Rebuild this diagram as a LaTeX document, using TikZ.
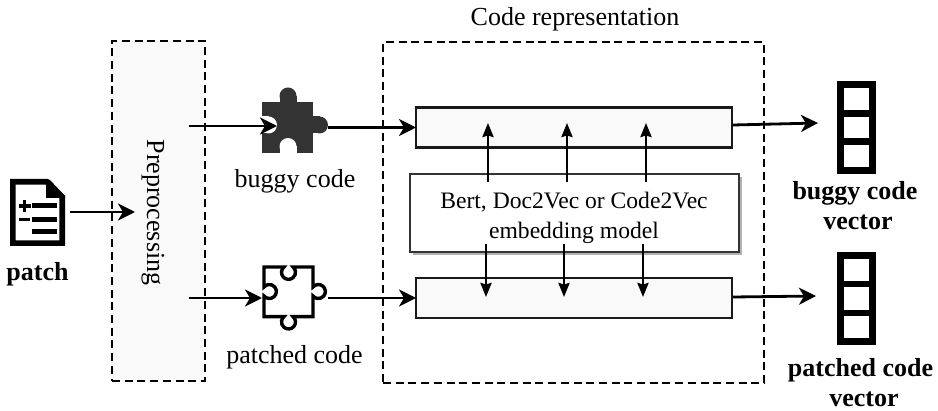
\documentclass[tikz,border=0pt]{standalone}
\usepackage{fontspec}
\setmainfont{Liberation Serif}
\usetikzlibrary{arrows.meta}
\definecolor{boxfill}{HTML}{F9F9F9}
\definecolor{puzzle}{HTML}{333333}
\tikzset{
  dashbox/.style={draw=black,line width=2.9pt,dash pattern=on 8pt off 4.7pt,outer sep=0pt,inner sep=0pt},
  barbox/.style={draw=black!90,fill=boxfill,line width=2.8pt,minimum width=316pt,minimum height=40pt,outer sep=0pt,inner sep=0pt},
  modelbox/.style={draw=black!80,fill=white,line width=1.5pt,minimum width=329pt,minimum height=78pt,outer sep=0pt,inner sep=0pt},
  flow/.style={line width=2.8pt,-{Stealth[length=17pt,width=17pt,inset=5pt]}},
  vflow/.style={line width=2.6pt,-{Stealth[length=14pt,width=11pt,inset=1.5pt]}},
  lab/.style={font=\fontsize{26}{30}\selectfont,anchor=base,inner sep=0pt},
  mlab/.style={font=\fontsize{23.6}{28}\selectfont,anchor=base,inner sep=0pt},
  blab/.style={font=\fontsize{26}{30}\selectfont\bfseries,anchor=base,inner sep=0pt},
  veccell/.style={draw=black,line width=6.5pt,fill=white,minimum width=32pt,outer sep=0pt,inner sep=0pt},
  iconline/.style={line width=5pt,black},
}
\begin{document}
\begin{tikzpicture}[x=1pt,y=-1pt]
\useasboundingbox (0,0) rectangle (938,411);
\fill[white] (0,0) rectangle (938,411);

% dashed containers
\node[dashbox,fill=boxfill,minimum width=93pt,minimum height=340pt] (prep) at (158.5,211) {};
\node[dashbox,minimum width=381pt,minimum height=341pt] (rep) at (573.5,212.5) {};
\node[lab] (reptitle) at (575,26) {Code representation};
\node[lab,rotate=-90] (preptext) at (147,212.5) {Preprocessing};

% patch icon
\draw[line width=5.6pt,line join=miter,fill=white] (12.8,181.8) -- (47,181.8) -- (62.2,197) -- (62.2,243.2) -- (12.8,243.2) -- cycle;
\fill (46,180) -- (50,180) -- (65,196) -- (65,198) -- (46,198) -- cycle;
\draw[iconline] (32,206) -- (57,206);
\draw[iconline] (32,219.5) -- (57,219.5);
\draw[iconline] (32,231.5) -- (57,231.5);
\draw[line width=3.2pt] (19,206) -- (30.5,206) (24.7,200.2) -- (24.7,211.8);
\draw[line width=3.2pt] (19,219.5) -- (29.5,219.5);
\node[blab] (patchlab) at (37.5,281) {patch};

% buggy puzzle
\fill[puzzle] (262,102) rectangle (313,153);
\fill[puzzle] (279.5,96) rectangle (296.5,102);
\fill[puzzle] (288,96) circle (8.5);
\fill[puzzle] (313,116.5) rectangle (319.5,133.5);
\fill[puzzle] (319.5,125) circle (8.5);
\fill[white] (261,116.5) rectangle (268.5,133.5);
\fill[white] (268.5,125) circle (8.5);
\fill[white] (279.5,146.5) rectangle (296.5,154);
\fill[white] (288,146.5) circle (8.5);
\node[lab] (buggylab) at (295,188) {buggy code};

% patched puzzle
\draw[line width=3.4pt,line join=miter]
  (264,267) -- (284,267) arc[start angle=230,end angle=-50,radius=7]
  -- (313,267) -- (313,287) arc[start angle=220,end angle=500,radius=7]
  -- (313,316.6) -- (293,316.6) arc[start angle=-50,end angle=230,radius=7]
  -- (264,316.6) -- (264,296) arc[start angle=140,end angle=-140,radius=7] -- cycle;
\node[lab] (patchedlab) at (294.5,364) {patched code};

% bars and model
\node[barbox] (upbar) at (574,127.5) {};
\node[barbox] (lowbar) at (574,298) {};
\fill[black!30] (413,177) rectangle (742,255);
\node[modelbox] (model) at (574.5,213) {};
\node[mlab] (m1) at (574,209) {Bert, Doc2Vec or Code2Vec};
\node[mlab] (m2) at (574,239) {embedding model};

% vectors
\node[veccell,minimum height=29pt] (b1) at (856.5,98.8) {};
\node[veccell,minimum height=28.4pt] (b2) at (856.5,127.5) {};
\node[veccell,minimum height=29pt] (b3) at (856.5,156.2) {};
\node[blab] (bv1) at (855,200) {buggy code};
\node[blab] (bv2) at (858,230) {vector};
\node[veccell,minimum height=28.7pt] (p1) at (856.5,269.65) {};
\node[veccell,minimum height=29pt] (p2) at (856.5,298.5) {};
\node[veccell,minimum height=28.7pt] (p3) at (856.5,327.35) {};
\node[blab] (pv1) at (860.5,377) {patched code};
\node[blab] (pv2) at (864,406.5) {vector};

% connector ends
\coordinate (a0) at (70,212);   \coordinate (a1) at (135,212);
\coordinate (b0) at (189,126);  \coordinate (b1e) at (277,126);
\coordinate (c0) at (328,127.5);
\coordinate (d0) at (189,298);  \coordinate (d1) at (262,298);
\coordinate (e0) at (328,298);
\coordinate (f1) at (818,123);  \coordinate (g1) at (816,296);
\coordinate (f0) at (733,125);  \coordinate (g0) at (733,297);
\coordinate (u1a) at (488,182); \coordinate (u1b) at (488,123);
\coordinate (u2a) at (567,182); \coordinate (u2b) at (567,123);
\coordinate (u3a) at (646,182); \coordinate (u3b) at (646,123);
\coordinate (v1a) at (486,244); \coordinate (v1b) at (486,297);
\coordinate (v2a) at (564,244); \coordinate (v2b) at (564,297);
\coordinate (v3a) at (643,244); \coordinate (v3b) at (643,297);

\draw[flow] (a0) -- (a1);
\draw[flow] (b0) -- (b1e);
\draw[flow] (c0) -- (upbar.west);
\draw[flow] (d0) -- (d1);
\draw[flow] (e0) -- (lowbar.west);
\draw[flow] (f0) -- (f1);
\draw[flow] (g0) -- (g1);
\draw[vflow] (u1a) -- (u1b);
\draw[vflow] (u2a) -- (u2b);
\draw[vflow] (u3a) -- (u3b);
\draw[vflow] (v1a) -- (v1b);
\draw[vflow] (v2a) -- (v2b);
\draw[vflow] (v3a) -- (v3b);
\end{tikzpicture}
\end{document}
